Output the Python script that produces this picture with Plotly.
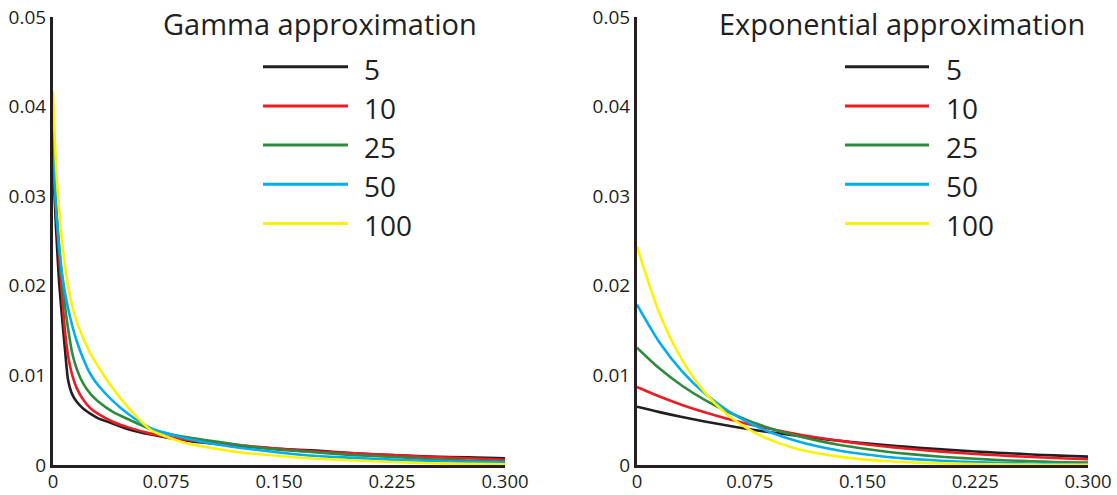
import plotly.graph_objects as go

# ---------------- data ----------------
series_names = ["5", "10", "25", "50", "100"]
series_colors = ["#231f20", "#ed1c24", "#2e8b3e", "#00aeef", "#fff200"]

# Gamma approximation (left panel)
gamma_x = [0, 0.002, 0.004, 0.006, 0.008, 0.010, 0.013, 0.016, 0.020, 0.025, 0.030,
           0.040, 0.050, 0.065, 0.085, 0.105, 0.125, 0.150, 0.175, 0.200, 0.225,
           0.250, 0.275, 0.300]
gamma_5 = [0.0337, 0.0265, 0.0205, 0.0165, 0.0128, 0.0095, 0.0078, 0.0070, 0.0063,
           0.0057, 0.0052, 0.0046, 0.0040, 0.0034, 0.0028, 0.0024, 0.0021, 0.0018,
           0.0016, 0.0013, 0.0011, 0.00095, 0.00085, 0.00075]
gamma_10 = [0.0340, 0.0285, 0.0235, 0.0190, 0.0149, 0.0122, 0.0099, 0.0085, 0.0073,
            0.0063, 0.0057, 0.0048, 0.0042, 0.0035, 0.0029, 0.0025, 0.0022, 0.0018,
            0.0015, 0.0013, 0.0011, 0.0009, 0.00075, 0.00058]
gamma_25 = [0.0348, 0.0290, 0.0245, 0.0208, 0.0177, 0.0152, 0.0123, 0.0106, 0.0091,
            0.0079, 0.0071, 0.0059, 0.0051, 0.0040, 0.0032, 0.0027, 0.0022, 0.0017,
            0.0014, 0.0011, 0.0009, 0.00065, 0.0005, 0.00037]
gamma_50 = [0.0376, 0.0290, 0.0245, 0.0214, 0.0192, 0.0175, 0.0154, 0.0137, 0.0119,
            0.0101, 0.0089, 0.0071, 0.0057, 0.0041, 0.0031, 0.0024, 0.0019, 0.0014,
            0.0010, 0.0008, 0.0006, 0.00045, 0.00035, 0.00026]
gamma_100 = [0.0417, 0.0335, 0.0287, 0.0250, 0.0222, 0.0200, 0.0176, 0.0159, 0.0142,
             0.0124, 0.0110, 0.0085, 0.0064, 0.0039, 0.0026, 0.0019, 0.0014, 0.0010,
             0.0007, 0.0005, 0.00033, 0.0002, 0.00012, 0.00008]

# Exponential approximation (right panel)
expo_x = [0, 0.015, 0.03, 0.045, 0.06, 0.075, 0.09, 0.105, 0.12, 0.135, 0.15, 0.165,
          0.18, 0.195, 0.21, 0.225, 0.24, 0.255, 0.27, 0.285, 0.3]
expo_5 = [0.00650, 0.00590, 0.00535, 0.00485, 0.00440, 0.00399, 0.00362, 0.00329,
          0.00298, 0.00270, 0.00245, 0.00223, 0.00202, 0.00183, 0.00166, 0.00151,
          0.00137, 0.00124, 0.00112, 0.00102, 0.00093]
expo_10 = [0.00870, 0.00764, 0.00670, 0.00588, 0.00516, 0.00453, 0.00398, 0.00349,
           0.00306, 0.00269, 0.00236, 0.00207, 0.00182, 0.00160, 0.00140, 0.00123,
           0.00108, 0.00095, 0.00083, 0.00073, 0.00064]
expo_25 = [0.01310, 0.01076, 0.00884, 0.00727, 0.00597, 0.00490, 0.00403, 0.00331,
           0.00272, 0.00223, 0.00184, 0.00151, 0.00124, 0.00102, 0.00084, 0.00069,
           0.00056, 0.00046, 0.00038, 0.00031, 0.00026]
expo_50 = [0.01790, 0.01368, 0.01046, 0.00800, 0.00611, 0.00467, 0.00357, 0.00273,
           0.00209, 0.00160, 0.00122, 0.00093, 0.00071, 0.00055, 0.00042, 0.00032,
           0.00024, 0.00019, 0.00014, 0.00011, 0.00008]
expo_100 = [0.02440, 0.01692, 0.01174, 0.00814, 0.00564, 0.00391, 0.00272, 0.00188,
            0.00131, 0.00091, 0.00063, 0.00044, 0.00030, 0.00021, 0.00015, 0.00010,
            0.00007, 0.00005, 0.00003, 0.00002, 0.00002]

x_tickvals = [0, 0.075, 0.15, 0.225, 0.3]
x_ticktext = ["0", "0.075", "0.150", "0.225", "0.300"]
y_tickvals = [0, 0.01, 0.02, 0.03, 0.04, 0.05]
y_ticktext = ["0", "0.01", "0.02", "0.03", "0.04", "0.05"]

panel_titles = ["Gamma approximation", "Exponential approximation"]

# ---------------- figure ----------------
W, H = 1117, 495
FONT = "Open Sans"
AXIS_COLOR = "#231f20"

fig = go.Figure()

gamma_series = [gamma_5, gamma_10, gamma_25, gamma_50, gamma_100]
expo_series = [expo_5, expo_10, expo_25, expo_50, expo_100]

for name, color, ys in zip(series_names, series_colors, gamma_series):
    fig.add_trace(go.Scatter(x=gamma_x, y=ys, mode="lines", name=name,
                             line=dict(color=color, width=2.6, shape="spline", smoothing=0.6),
                             showlegend=False, xaxis="x", yaxis="y"))
for name, color, ys in zip(series_names, series_colors, expo_series):
    fig.add_trace(go.Scatter(x=expo_x, y=ys, mode="lines", name=name,
                             line=dict(color=color, width=2.6, shape="spline", smoothing=0.8),
                             showlegend=False, xaxis="x2", yaxis="y2"))

# panel geometry (pixels)
left_px = [(53, 505), (637, 1088)]
y_bottom_px, y_top_px = 465, 17

def px_x(p):
    return p / W

def px_y(p):
    return 1 - p / H

axis_common = dict(showgrid=False, zeroline=False, showline=True, linecolor=AXIS_COLOR,
                   linewidth=3, ticks="", automargin=False,
                   layer="below traces")

layout_axes = {}
for i, (a, b) in enumerate(left_px):
    sx = "" if i == 0 else str(i + 1)
    layout_axes["xaxis" + sx] = dict(axis_common, domain=[px_x(a), px_x(b)], range=[0, 0.3],
                                      tickvals=x_tickvals, ticktext=x_ticktext,
                                      tickfont=dict(family=FONT, size=18.5, color=AXIS_COLOR),
                                      anchor="y" + sx, ticklabelstandoff=-2)
    layout_axes["yaxis" + sx] = dict(axis_common,
                                      domain=[px_y(y_bottom_px), px_y(y_top_px)],
                                      range=[0, 0.05], tickvals=y_tickvals,
                                      ticktext=y_ticktext, anchor="x" + sx,
                                      tickfont=dict(family=FONT, size=19, color=AXIS_COLOR),
                                      ticklabelstandoff=0)

fig.update_layout(width=W, height=H, margin=dict(l=0, r=0, t=0, b=0),
                  paper_bgcolor="white", plot_bgcolor="white",
                  font=dict(family=FONT, color=AXIS_COLOR), **layout_axes)

# titles
title_centers = [320, 902]
for t, cx in zip(panel_titles, title_centers):
    fig.add_annotation(text=t, x=px_x(cx), y=px_y(24), xref="paper", yref="paper",
                       xanchor="center", yanchor="middle", showarrow=False,
                       font=dict(family=FONT, size=29, color=AXIS_COLOR))

# custom legends (long keys)
legend_geom = [(263, 348, 362), (845, 929, 944)]
leg_y0, leg_dy = 66.7, 39.2
for (lx0, lx1, tx) in legend_geom:
    for i, (name, color) in enumerate(zip(series_names, series_colors)):
        yy = leg_y0 + i * leg_dy
        fig.add_shape(type="line", xref="paper", yref="paper",
                      x0=px_x(lx0), x1=px_x(lx1), y0=px_y(yy), y1=px_y(yy),
                      line=dict(color=color, width=3))
        fig.add_annotation(text=name, x=px_x(tx), y=px_y(yy + 2), xref="paper", yref="paper",
                           xanchor="left", yanchor="middle", showarrow=False,
                           font=dict(family=FONT, size=28, color=AXIS_COLOR))

fig.write_html("out.html", config={"displayModeBar": False},
               post_script="document.body.style.margin='0';document.body.style.padding='0';"
                           "document.body.style.overflow='hidden';")
